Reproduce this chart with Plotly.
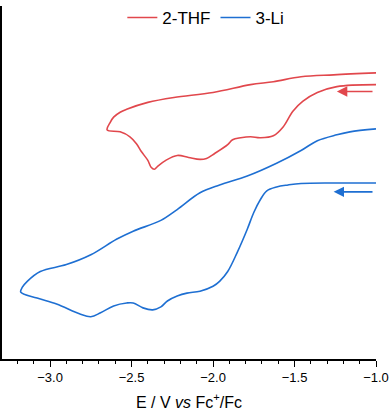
import plotly.graph_objects as go

# 2-THF (red) : forward (cathodic) sweep then return sweep
thf_E = [-1.00, -1.24, -1.36, -1.45, -1.51, -1.57, -1.63, -1.71, -1.77, -1.83, -1.88, -1.91,
         -1.99, -2.04, -2.08, -2.15, -2.22, -2.29, -2.34, -2.36, -2.38, -2.40, -2.44, -2.47,
         -2.51, -2.57, -2.65,
         -2.63, -2.61, -2.57, -2.53, -2.40, -2.24, -2.00, -1.77, -1.63, -1.46, -1.26, -1.00]
thf_I = [28.0, 27.8, 27.2, 26.3, 25.3, 23.7, 22.8, 22.6, 22.7, 22.6, 22.4, 21.9,
         21.0, 20.5, 20.4, 20.6, 20.8, 20.3, 19.7, 19.4, 19.6, 20.3, 21.2, 22.0,
         22.7, 23.2, 23.4,
         24.2, 24.7, 25.2, 25.5, 26.2, 26.7, 27.2, 28.0, 28.3, 28.8, 29.0, 29.2]

# 3-Li (blue)
li_E = [-1.00, -1.26, -1.46, -1.54, -1.61, -1.67, -1.71, -1.75, -1.79, -1.85, -1.91, -1.96,
        -2.00, -2.08, -2.16, -2.22, -2.28, -2.32, -2.37, -2.43, -2.49, -2.53, -2.61, -2.69,
        -2.75, -2.82, -2.96, -3.08, -3.18,
        -3.17, -3.14, -3.06, -2.90, -2.75, -2.59, -2.49, -2.32, -2.22, -2.08, -1.96, -1.79,
        -1.61, -1.46, -1.36, -1.24, -1.16, -1.00]
li_I = [18.0, 18.0, 17.95, 17.8, 17.6, 17.2, 16.3, 15.0, 13.3, 11.0, 9.0, 8.0,
        7.5, 7.0, 6.8, 6.5, 6.0, 5.4, 5.1, 5.3, 5.8, 5.8, 5.5, 4.8,
        4.4, 4.7, 5.7, 6.3, 6.9,
        7.4, 8.0, 9.0, 9.7, 10.7, 12.3, 13.1, 14.2, 15.3, 17.0, 17.8, 18.7,
        20.0, 21.3, 22.3, 22.9, 23.2, 23.5]

# scan-direction arrows: [tail E, head E, current]
thf_arrow = [-1.00, -1.24, 27.3]
li_arrow = [-1.00, -1.26, 17.1]

x_ticks = [-3.0, -2.5, -2.0, -1.5, -1.0]
x_tick_text = ["\u22123.0", "\u22122.5", "\u22122.0", "\u22121.5", "\u22121.0"]

RED = "#e1474c"
BLUE = "#1e6fd2"
FONT = "Liberation Sans, Arial, sans-serif"

fig = go.Figure()
fig.add_trace(go.Scatter(x=thf_E, y=thf_I, mode="lines", name="2-THF",
                         line=dict(color=RED, width=1.6, shape="spline", smoothing=1.0)))
fig.add_trace(go.Scatter(x=li_E, y=li_I, mode="lines", name="3-Li",
                         line=dict(color=BLUE, width=1.6, shape="spline", smoothing=1.0)))

for arr, col in ((thf_arrow, RED), (li_arrow, BLUE)):
    fig.add_annotation(x=arr[1], y=arr[2], ax=arr[0], ay=arr[2],
                       xref="x", yref="y", axref="x", ayref="y",
                       showarrow=True, arrowhead=2, arrowsize=1.3, arrowwidth=1.6,
                       arrowcolor=col, text=" ")

fig.update_layout(
    width=392, height=416,
    margin=dict(l=2, r=16, t=0, b=57),
    paper_bgcolor="white", plot_bgcolor="white",
    font=dict(family=FONT, color="black", size=13),
    showlegend=True,
    legend=dict(orientation="h", x=0.545, xanchor="center", y=1.017, yanchor="top",
                font=dict(size=17), bgcolor="rgba(0,0,0,0)", tracegroupgap=0),
)
fig.update_xaxes(
    range=[-3.295, -1.0], showline=True, linecolor="black", linewidth=1.5,
    ticks="outside", ticklen=6, tickwidth=1.2, tickcolor="black",
    tickvals=x_ticks, ticktext=x_tick_text, tickfont=dict(size=13),
    minor=dict(ticks="outside", ticklen=3, tickwidth=1.2, tickcolor="black", dtick=0.1, tick0=-3.0),
    showgrid=False, zeroline=False,
    title=dict(text="E / V <i>vs</i> Fc<sup>+</sup>/Fc", font=dict(size=16), standoff=12),
)
fig.update_yaxes(
    range=[0.1, 36.0], showline=True, linecolor="black", linewidth=1.5,
    showticklabels=False, ticks="", showgrid=False, zeroline=False,
)

fig.write_html("out.html", config={"displayModeBar": False},
               post_script="document.body.style.margin='0';")
